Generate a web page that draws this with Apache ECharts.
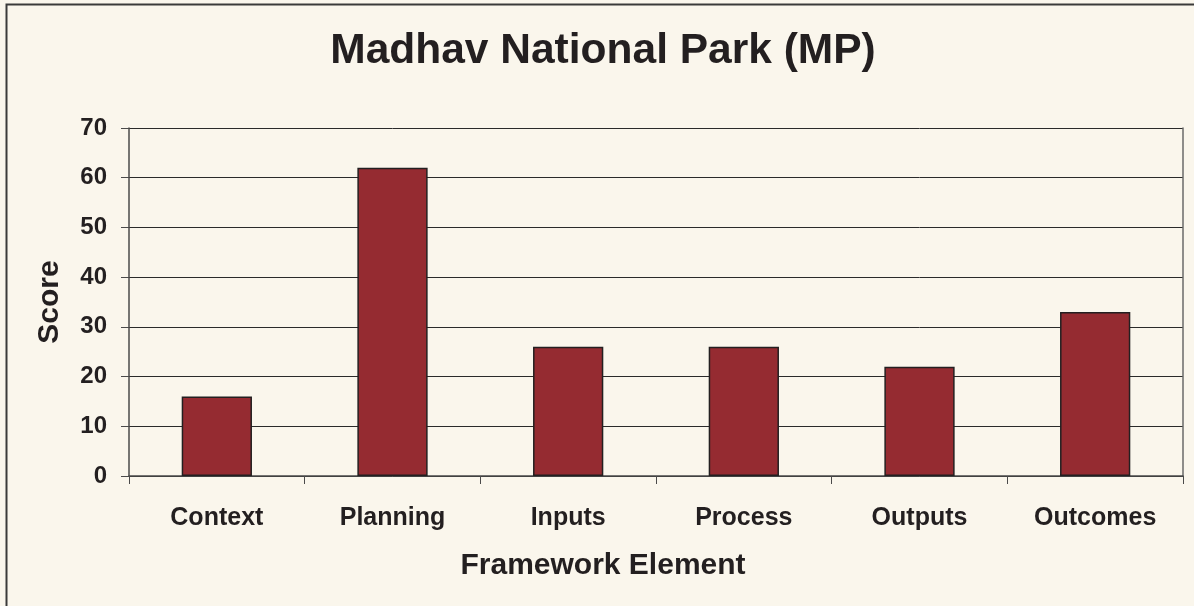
<!DOCTYPE html>
<html>
<head>
<meta charset="utf-8">
<script src="https://cdn.jsdelivr.net/npm/echarts@6/dist/echarts.min.js"></script>
<style>
html,body{margin:0;padding:0;background:#FAF6EC;}
#chart{width:1194px;height:606px;}
</style>
</head>
<body>
<div id="chart"></div>
<script>
// data
var categories = ['Context', 'Planning', 'Inputs', 'Process', 'Outputs', 'Outcomes'];
var scores = [16, 62, 26, 26, 22, 33];
var yTicks = [0, 10, 20, 30, 40, 50, 60, 70];

var chart = echarts.init(document.getElementById('chart'));
var font = 'Liberation Sans, Arial, sans-serif';
var ink = '#231F20';

var option = {
    backgroundColor: '#FAF6EC',
    animation: false,
    graphic: [{
        type: 'rect',
        shape: {x: 6.5, y: 4.5, width: 1300, height: 700},
        style: {fill: 'none', stroke: '#3a3a3a', lineWidth: 2}
    }, {
        type: 'text',
        x: 603, y: 51,
        style: {text: 'Madhav National Park (MP)', font: 'bold 42.5px ' + font, fill: ink,
            textAlign: 'center', textVerticalAlign: 'middle'}
    }, {
        type: 'text',
        x: 603, y: 566,
        style: {text: 'Framework Element', font: 'bold 30px ' + font, fill: ink,
            textAlign: 'center', textVerticalAlign: 'middle'}
    }],
    grid: {left: 129, right: 11, top: 128, bottom: 130},
    xAxis: {
        type: 'category',
        data: categories,
        axisLine: {lineStyle: {color: '#4a4a4a', width: 1.5}},
        axisTick: {show: true, length: 8, lineStyle: {color: '#4a4a4a'}},
        axisLabel: {fontFamily: font, fontSize: 25, fontWeight: 'bold', color: ink, margin: 30}
    },
    yAxis: [{
        type: 'value',
        min: yTicks[0],
        max: yTicks[yTicks.length - 1],
        interval: 10,
        name: 'Score',
        nameLocation: 'middle',
        nameGap: 64,
        nameTextStyle: {fontFamily: font, fontSize: 30, fontWeight: 'bold', color: ink},
        axisLine: {show: true, lineStyle: {color: '#4a4a4a', width: 1.5}},
        axisTick: {show: true, length: 8, lineStyle: {color: '#4a4a4a'}},
        axisLabel: {fontFamily: font, fontSize: 24, fontWeight: 'bold', color: ink, margin: 22},
        splitLine: {lineStyle: {color: '#2a2a2a', width: 1}}
    }, {
        type: 'value',
        position: 'right',
        min: 0, max: 70, interval: 10,
        axisLine: {show: true, lineStyle: {color: '#6a6a6a', width: 1.5}},
        axisTick: {show: false},
        axisLabel: {show: false},
        splitLine: {show: false}
    }],
    series: [{
        type: 'bar',
        data: scores,
        barWidth: '40%',
        itemStyle: {color: '#952B31', borderColor: ink, borderWidth: 1.5}
    }]
};
chart.setOption(option);
</script>
</body>
</html>
